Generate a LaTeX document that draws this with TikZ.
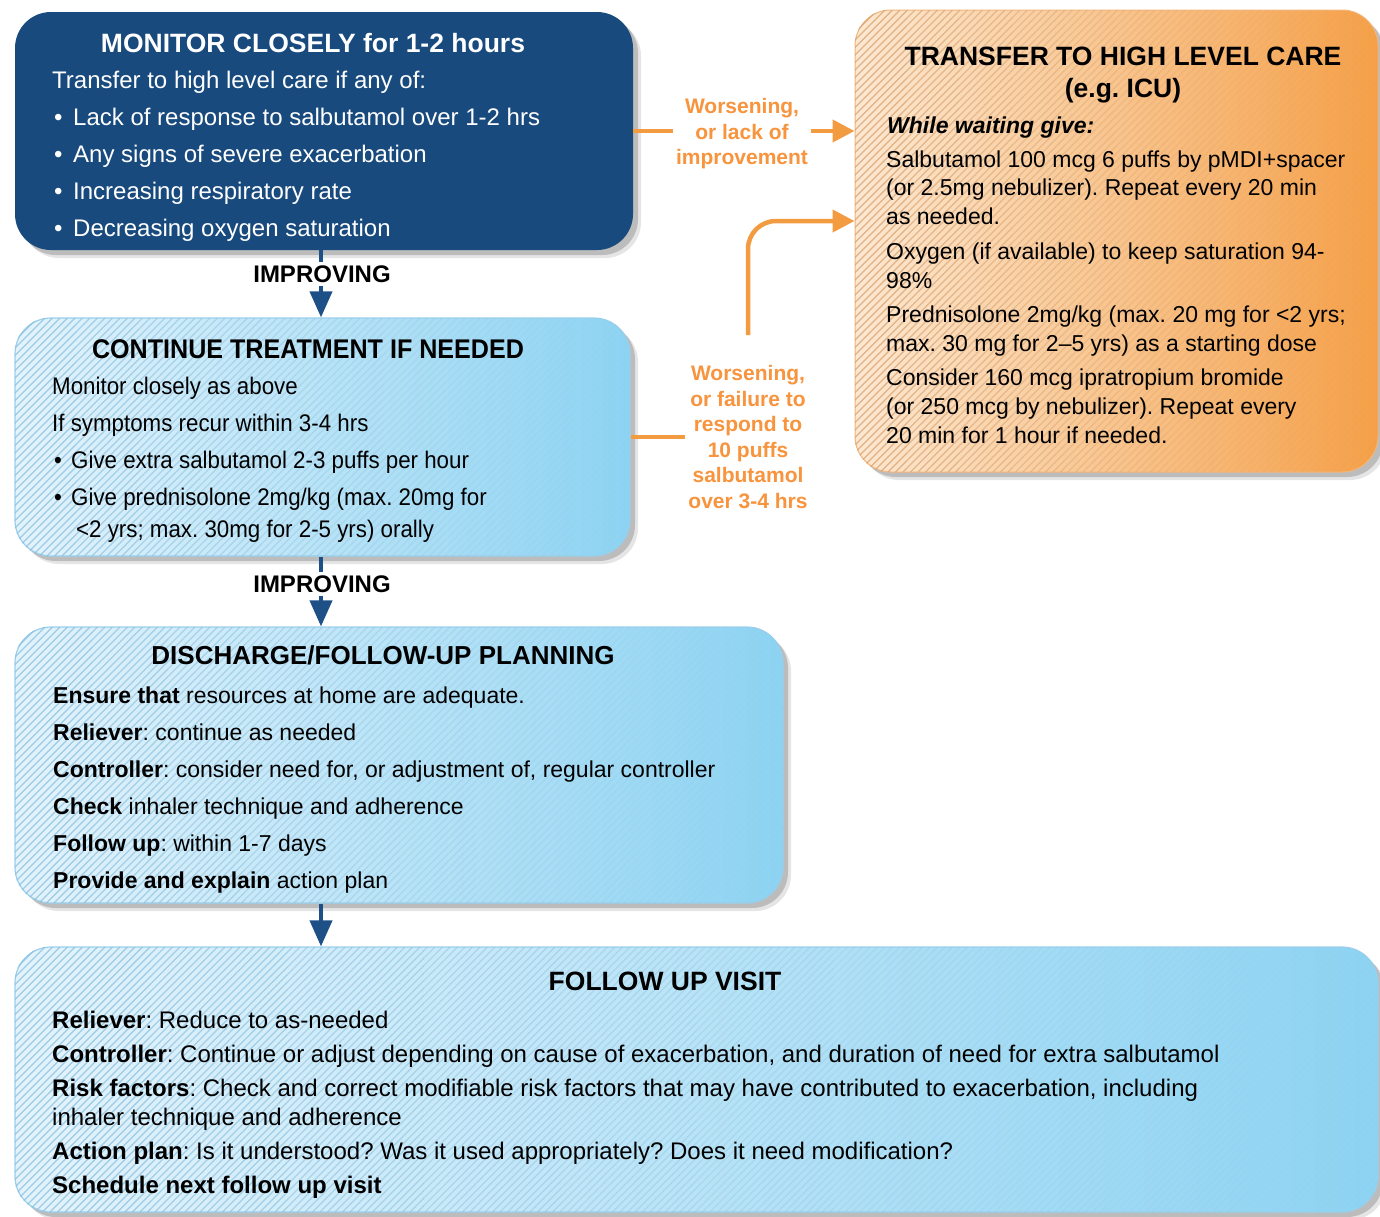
\documentclass[tikz,border=0pt]{standalone}
\usepackage{fontspec}
\setmainfont{Liberation Sans}
\newfontfamily\narrowfont[FakeStretch=0.93]{Liberation Sans}
\usetikzlibrary{arrows.meta,shadows}
\frenchspacing

\definecolor{navy}{HTML}{184A7E}
\definecolor{arrowblue}{HTML}{1E5088}
\definecolor{skyA}{HTML}{E4F3FB}
\definecolor{skyM}{HTML}{B9E3F6}
\definecolor{skyB}{HTML}{8DD3F2}
\definecolor{skyEdge}{HTML}{9ACFEC}
\definecolor{hatchblue}{HTML}{86BFE0}
\definecolor{orA}{HTML}{FCE8D2}
\definecolor{orM}{HTML}{F8C188}
\definecolor{orB}{HTML}{F5A048}
\definecolor{orEdge}{HTML}{F2B57A}
\definecolor{hatchor}{HTML}{D9A06C}
\definecolor{orangetext}{HTML}{F7943D}
\definecolor{orangeline}{HTML}{F39B40}

% diagonal hatching that fades out from left to right
% #1 x-left, #2 y-top, #3 x-right, #4 y-bottom, #5 colour, #6 strongest opacity
\newcommand\hatchfill[6]{%
  \pgfmathsetmacro\hH{#4-#2}%
  \pgfmathsetmacro\hW{#3-#1}%
  \pgfmathsetmacro\bw{\hW/10}%
  \foreach \k in {0,...,9}{%
    \pgfmathsetmacro\bx{#1+\k*\bw}%
    \pgfmathsetmacro\op{#6*(1-\k/10)^1.3}%
    \pgfmathtruncatemacro\nA{floor((\bx-#1)/7.5)-1}%
    \pgfmathtruncatemacro\nB{ceil((\bx+\bw-#1+\hH)/7.5)+1}%
    \begin{scope}
      \clip (\bx,#2) rectangle (\bx+\bw,#4);
      \foreach \n in {\nA,...,\nB}{%
        \draw[#5, line width=1.2pt, draw opacity=\op] (#1-\hH+7.5*\n,#4) -- ++(\hH,-\hH);
      }
    \end{scope}
  }%
}
\newcommand\bulA{\makebox[21pt][l]{\hspace{2pt}•}}
\newcommand\bulB{\makebox[19pt][l]{\hspace{2pt}•}}

\tikzset{
  boxbase/.style={rectangle, rounded corners=36pt, inner sep=0pt,
    drop shadow={shadow xshift=8pt, shadow yshift=-8pt, fill=black, opacity=0.10},
    drop shadow={shadow xshift=5pt, shadow yshift=-5pt, fill=black, opacity=0.18}},
  darkbox/.style={boxbase, fill=navy},
  skybox/.style={boxbase, left color=skyA, middle color=skyM, right color=skyB,
    draw=skyEdge, line width=1.2pt},
  orangebox/.style={boxbase, left color=orA, middle color=orM, right color=orB,
    draw=orEdge, line width=1pt},
  title/.style={anchor=base, inner sep=0pt, font=\fontsize{26.5}{30}\selectfont\bfseries},
  body/.style={anchor=base west, inner sep=0pt, font=\fontsize{23}{28}\selectfont},
  bodybig/.style={anchor=base west, inner sep=0pt, font=\fontsize{24}{28}\selectfont},
  bodynarrow/.style={anchor=base west, inner sep=0pt, font=\narrowfont\fontsize{24}{28}\selectfont},
  flowlabel/.style={align=center, fill=white, inner sep=3pt, text=orangetext,
    font=\fontsize{21}{25.5}\selectfont\bfseries},
  steplabel/.style={fill=white, inner sep=3pt, font=\fontsize{24}{28}\selectfont\bfseries},
  navyline/.style={draw=arrowblue, line width=4pt},
  navytip/.style={navyline, -{Triangle[width=22pt,length=26pt]}},
  orangearrow/.style={draw=orangeline, line width=4.5pt, -{Triangle[width=22pt,length=22pt]}},
  orangeplain/.style={draw=orangeline, line width=4.5pt}
}

\begin{document}
\begin{tikzpicture}[x=1pt,y=-1pt]
\useasboundingbox (0,0) rectangle (1380,1216);

% ---------- boxes ----------
\node[darkbox, minimum width=618pt, minimum height=238pt] (mon) at (324,131) {};

\node[skybox, minimum width=615pt, minimum height=238pt] (cont) at (322.5,437) {};
\begin{scope}
  \clip[rounded corners=36pt] (cont.north west) rectangle (cont.south east);
  \hatchfill{15}{318}{630}{556}{hatchblue}{0.75}
\end{scope}

\node[skybox, minimum width=768pt, minimum height=276pt] (plan) at (399,765) {};
\begin{scope}
  \clip[rounded corners=36pt] (plan.north west) rectangle (plan.south east);
  \hatchfill{15}{627}{783}{903}{hatchblue}{0.75}
\end{scope}

\node[skybox, minimum width=1363pt, minimum height=265pt] (visit) at (696.5,1079.5) {};
\begin{scope}
  \clip[rounded corners=36pt] (visit.north west) rectangle (visit.south east);
  \hatchfill{15}{947}{1378}{1212}{hatchblue}{0.75}
\end{scope}

\node[orangebox, minimum width=523pt, minimum height=462pt] (icu) at (1116.5,241) {};
\begin{scope}
  \clip[rounded corners=36pt] (icu.north west) rectangle (icu.south east);
  \hatchfill{855}{10}{1378}{472}{hatchor}{0.75}
\end{scope}

% ---------- MONITOR CLOSELY ----------
\node[title, text=white] (monT) at (313,52) {MONITOR CLOSELY for 1-2 hours};
\node[bodybig, text=white] (mon1) at (52,88) {Transfer to high level care if any of:};
\node[bodybig, text=white] (mon2) at (52,125) {\bulA Lack of response to salbutamol over 1-2 hrs};
\node[bodybig, text=white] (mon3) at (52,162) {\bulA Any signs of severe exacerbation};
\node[bodybig, text=white] (mon4) at (52,199) {\bulA Increasing respiratory rate};
\node[bodybig, text=white] (mon5) at (52,236) {\bulA Decreasing oxygen saturation};

% ---------- CONTINUE TREATMENT ----------
\node[title, font=\narrowfont\fontsize{27}{30}\selectfont\bfseries] (contT) at (308,358) {CONTINUE TREATMENT IF NEEDED};
\node[bodynarrow] (cont1) at (52,394) {Monitor closely as above};
\node[bodynarrow] (cont2) at (52,431) {If symptoms recur within 3-4 hrs};
\node[bodynarrow] (cont3) at (52,468) {\bulB Give extra salbutamol 2-3 puffs per hour};
\node[bodynarrow] (cont4) at (52,505) {\bulB Give prednisolone 2mg/kg (max. 20mg for};
\node[bodynarrow] (cont5) at (76,537) {<2 yrs; max. 30mg for 2-5 yrs) orally};

% ---------- DISCHARGE PLANNING ----------
\node[title, font=\fontsize{26}{30}\selectfont\bfseries] (planT) at (383,664) {DISCHARGE/FOLLOW-UP PLANNING};
\node[body] (plan1) at (53,703) {\textbf{Ensure that} resources at home are adequate.};
\node[body] (plan2) at (53,740) {\textbf{Reliever}: continue as needed};
\node[body] (plan3) at (53,777) {\textbf{Controller}: consider need for, or adjustment of, regular controller};
\node[body] (plan4) at (53,814) {\textbf{Check} inhaler technique and adherence};
\node[body] (plan5) at (53,851) {\textbf{Follow up}: within 1-7 days};
\node[body] (plan6) at (53,888) {\textbf{Provide and explain} action plan};

% ---------- FOLLOW UP VISIT ----------
\node[title] (visitT) at (665,990) {FOLLOW UP VISIT};
\node[bodybig] (visit1) at (52,1028) {\textbf{Reliever}: Reduce to as-needed};
\node[bodybig] (visit2) at (52,1062) {\textbf{Controller}: Continue or adjust depending on cause of exacerbation, and duration of need for extra salbutamol};
\node[bodybig] (visit3) at (52,1096) {\textbf{Risk factors}: Check and correct modifiable risk factors that may have contributed to exacerbation, including};
\node[bodybig] (visit4) at (52,1125) {inhaler technique and adherence};
\node[bodybig] (visit5) at (52,1159) {\textbf{Action plan}: Is it understood? Was it used appropriately? Does it need modification?};
\node[bodybig] (visit6) at (52,1193) {\textbf{Schedule next follow up visit}};

% ---------- TRANSFER TO HIGH LEVEL CARE ----------
\node[title] (icuT1) at (1123,65) {TRANSFER TO HIGH LEVEL CARE};
\node[title] (icuT2) at (1123,97) {(e.g. ICU)};
\node[body] (icu0) at (887,133) {\bfseries\itshape While waiting give:};
\node[body] (icu1) at (886,167) {Salbutamol 100 mcg 6 puffs by pMDI+spacer};
\node[body] (icu2) at (886,195) {(or 2.5mg nebulizer). Repeat every 20 min};
\node[body] (icu3) at (886,224) {as needed.};
\node[body] (icu4) at (886,259) {Oxygen (if available) to keep saturation 94-};
\node[body] (icu5) at (886,288) {98\%};
\node[body] (icu6) at (886,322) {Prednisolone 2mg/kg (max. 20 mg for <2 yrs;};
\node[body] (icu7) at (886,351) {max. 30 mg for 2–5 yrs) as a starting dose};
\node[body] (icu8) at (886,385) {Consider 160 mcg ipratropium bromide};
\node[body] (icu9) at (886,414) {(or 250 mcg by nebulizer). Repeat every};
\node[body] (icu10) at (886,443) {20 min for 1 hour if needed.};

% ---------- downward connectors ----------
\coordinate (ax) at (321,0);
\node[steplabel] (imp1) at (322,274) {IMPROVING};
\node[steplabel] (imp2) at (322,584) {IMPROVING};
\draw[navyline] (mon.south -| ax) -- (imp1.north -| ax);
\draw[navytip] (imp1.south -| ax) -- (cont.north -| ax);
\draw[navyline] (cont.south -| ax) -- (imp2.north -| ax);
\draw[navytip] (imp2.south -| ax) -- (plan.north -| ax);
\draw[navytip] (plan.south -| ax) -- (visit.north -| ax);

% ---------- orange connectors ----------
\node[flowlabel] (worse1) at (742,134) {Worsening,\\or lack of\\improvement};
\coordinate (lvl1) at (0,131);
\draw[orangeplain] (mon.east |- lvl1) -- (worse1.west |- lvl1);
\draw[orangearrow] (worse1.east |- lvl1) -- (icu.west |- lvl1);

\node[flowlabel] (worse2) at (748,437) {Worsening,\\or failure to\\respond to\\10 puffs\\salbutamol\\over 3-4 hrs};
\coordinate (rise) at (748,335);
\coordinate (entry) at (0,221);
\draw[orangeplain] (cont.east) -- (worse2.west);
\draw[orangearrow, rounded corners=28pt] (rise) |- (icu.west |- entry);
\end{tikzpicture}
\end{document}
